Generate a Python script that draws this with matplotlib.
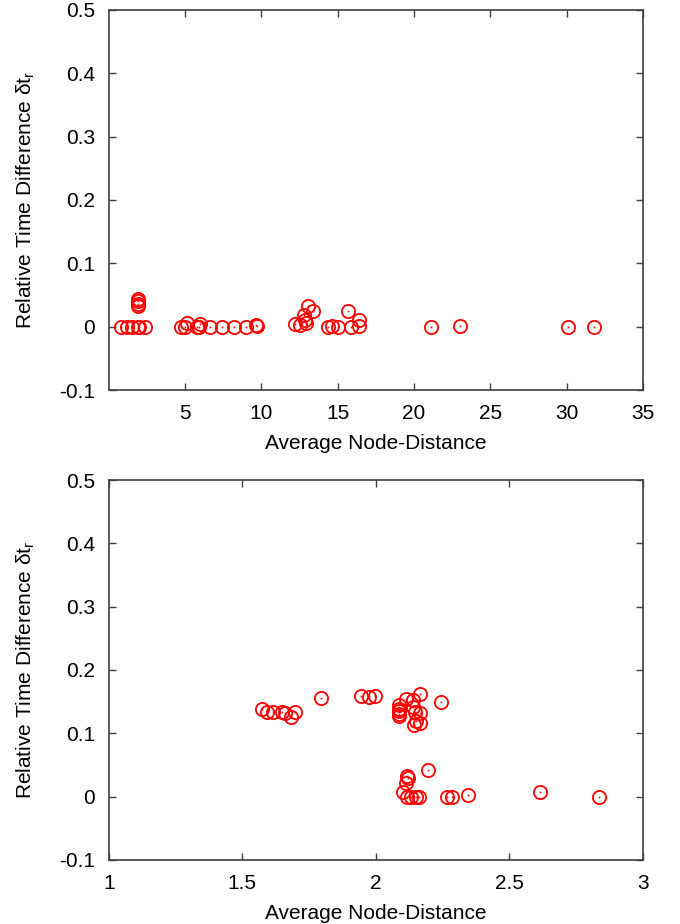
import matplotlib
matplotlib.use("Agg")
import matplotlib.pyplot as plt

plt.rcParams['font.family'] = ['Liberation Sans', 'DejaVu Sans']
plt.rcParams['axes.unicode_minus'] = False

# datos del panel superior
dist_top = [0.8, 1.2, 1.5, 1.9, 2.0, 2.4,
            1.9, 1.9, 1.9, 1.9,
            4.7, 5.0, 5.1, 5.8, 5.9, 6.0, 6.6, 7.4, 8.2, 9.0, 9.65, 9.7,
            12.2, 12.55, 12.8, 12.85, 12.9, 13.05, 13.4, 14.35, 14.6, 15.0,
            15.65, 15.9, 16.4, 16.4,
            21.1, 23.0, 30.1, 31.8]
diff_top = [0.0, 0.0, 0.0, 0.0, 0.0, 0.0,
            0.044, 0.04, 0.036, 0.032,
            0.0, 0.0, 0.006, 0.0, 0.0, 0.004, 0.0, 0.0, 0.0, 0.0, 0.002, 0.001,
            0.004, 0.003, 0.018, 0.01, 0.006, 0.032, 0.024, 0.0, 0.001, 0.0,
            0.025, 0.0, 0.01, 0.001,
            0.0, 0.001, 0.0, 0.0]

# datos del panel inferior
dist_bot = [1.572, 1.593, 1.613, 1.647, 1.66, 1.684, 1.697,
            1.794, 1.943, 1.974, 1.996,
            2.087, 2.087, 2.087, 2.087, 2.087,
            2.112, 2.14, 2.14, 2.165, 2.146, 2.165, 2.142, 2.165, 2.15, 2.243,
            2.115, 2.12, 2.112, 2.102, 2.196,
            2.115, 2.133, 2.15, 2.16, 2.265, 2.286, 2.346,
            2.614, 2.835]
diff_bot = [0.138, 0.133, 0.133, 0.133, 0.132, 0.126, 0.134,
            0.155, 0.159, 0.158, 0.159,
            0.144, 0.139, 0.135, 0.131, 0.127,
            0.154, 0.152, 0.142, 0.162, 0.134, 0.132, 0.113, 0.116, 0.12, 0.149,
            0.033, 0.029, 0.022, 0.008, 0.042,
            0.0, 0.0, 0.0, 0.0, 0.0, 0.0, 0.003,
            0.007, 0.0]

fig = plt.figure(figsize=(6.8, 9.24), dpi=100)
ax1 = fig.add_axes([0.160, 0.5779, 0.7856, 0.4113])
ax2 = fig.add_axes([0.160, 0.0693, 0.7856, 0.4112])

rojo = '#ff0000'
etiqueta_y = 'Relative Time Difference δt$_\\mathregular{r}$'

def dibujar(ax, xs, ys, xlim, xticks):
    ax.plot(xs, ys, linestyle='none', marker='o', markersize=9.5,
            markerfacecolor='none', markeredgecolor=rojo, markeredgewidth=1.3)
    ax.plot(xs, ys, linestyle='none', marker='s', markersize=1.2,
            markerfacecolor=rojo, markeredgewidth=0, color=rojo)
    ax.set_xlim(*xlim)
    ax.set_ylim(-0.1, 0.5)
    ax.set_xticks(xticks)
    ax.set_yticks([-0.1, 0, 0.1, 0.2, 0.3, 0.4, 0.5])
    ax.set_yticklabels(['-0.1', '0', '0.1', '0.2', '0.3', '0.4', '0.5'])
    ax.tick_params(direction='in', top=True, right=True, length=5,
                   width=1, labelsize=15, color='#404040')
    ax.tick_params(axis='y', pad=10)
    ax.tick_params(axis='x', pad=10)
    for s in ax.spines.values():
        s.set_color('#404040')
        s.set_linewidth(1.2)
    ax.set_xlabel('Average Node-Distance', fontsize=15, labelpad=8)
    ax.set_ylabel(etiqueta_y, fontsize=15, labelpad=16)

dibujar(ax1, dist_top, diff_top, (0, 35), [5, 10, 15, 20, 25, 30, 35])
ax1.set_xticklabels(['5', '10', '15', '20', '25', '30', '35'])
dibujar(ax2, dist_bot, diff_bot, (1, 3), [1, 1.5, 2, 2.5, 3])
ax2.set_xticklabels(['1', '1.5', '2', '2.5', '3'])

fig.savefig('out.png', dpi=100)
